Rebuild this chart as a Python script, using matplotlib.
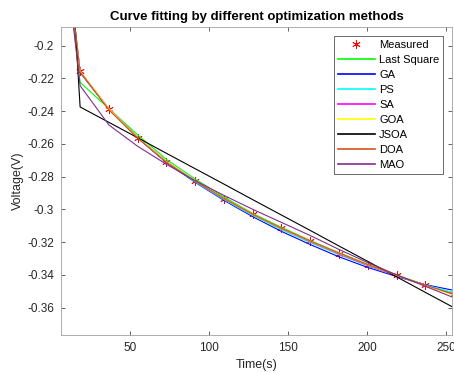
import matplotlib
matplotlib.use('Agg')
import matplotlib.pyplot as plt
from matplotlib.ticker import FuncFormatter

plt.rcParams['font.family'] = ['Liberation Sans', 'DejaVu Sans']

# time samples (s)
time_s = [0, 18.2, 36.4, 54.6, 72.8, 91.0, 109.2, 127.4, 145.6, 163.8,
          182.0, 200.2, 218.4, 236.6, 254.8]

measured = [-0.065, -0.2153, -0.2387, -0.2563, -0.2710, -0.2830, -0.2937,
            -0.3030, -0.3117, -0.3195, -0.3270, -0.3341, -0.3402, -0.3464,
            -0.3520]

last_square = [-0.070, -0.2225, -0.2385, -0.2545, -0.2695, -0.2815, -0.2925,
               -0.3025, -0.3110, -0.3190, -0.3265, -0.3335, -0.3400, -0.3462,
               -0.3515]
ga = [-0.062, -0.2165, -0.2390, -0.2565, -0.2715, -0.2835, -0.2945, -0.3045,
      -0.3135, -0.3215, -0.3290, -0.3355, -0.3410, -0.3460, -0.3495]
ps = [-0.063, -0.2160, -0.2388, -0.2562, -0.2712, -0.2832, -0.2940, -0.3038,
      -0.3125, -0.3203, -0.3277, -0.3345, -0.3405, -0.3462, -0.3508]
sa = [-0.064, -0.2158, -0.2385, -0.2560, -0.2708, -0.2828, -0.2935, -0.3032,
      -0.3118, -0.3197, -0.3272, -0.3342, -0.3405, -0.3465, -0.3520]
goa = [-0.065, -0.2155, -0.2386, -0.2561, -0.2709, -0.2826, -0.2933, -0.3030,
       -0.3116, -0.3194, -0.3268, -0.3338, -0.3403, -0.3465, -0.3525]
jsoa = [0.050, -0.2375, -0.2469, -0.2563, -0.2658, -0.2752, -0.2846, -0.2941,
        -0.3035, -0.3129, -0.3224, -0.3318, -0.3412, -0.3507, -0.3601]
doa = [-0.066, -0.2160, -0.2392, -0.2565, -0.2712, -0.2828, -0.2933, -0.3030,
       -0.3115, -0.3193, -0.3267, -0.3337, -0.3402, -0.3463, -0.3520]
mao = [-0.068, -0.2245, -0.2485, -0.2615, -0.2725, -0.2825, -0.2915, -0.3000,
       -0.3080, -0.3160, -0.3245, -0.3325, -0.3400, -0.3470, -0.3540]

series = [
    ('Last Square', last_square, '#00ff00'),
    ('GA', ga, '#0000ff'),
    ('PS', ps, '#00ffff'),
    ('SA', sa, '#ff00ff'),
    ('GOA', goa, '#ffff00'),
    ('JSOA', jsoa, '#000000'),
    ('DOA', doa, '#d95319'),
    ('MAO', mao, '#7e2f8e'),
]

fig = plt.figure(figsize=(4.54, 3.73), dpi=100)
ax = fig.add_axes([0.134, 0.102, 0.862, 0.826])

ax.plot(time_s, measured, linestyle='none', marker=(6, 2, 0), markersize=6,
        markeredgewidth=0.6, color='#ff0000', label='Measured')
for name, values, color in series:
    ax.plot(time_s, values, color=color, linewidth=0.8, label=name)

ax.set_xlim(6, 253.6)
ax.set_ylim(-0.3767, -0.1886)
ax.set_xticks([50, 100, 150, 200, 250])
ax.set_yticks([-0.36, -0.34, -0.32, -0.3, -0.28, -0.26, -0.24, -0.22, -0.2])
ax.yaxis.set_major_formatter(FuncFormatter(lambda v, p: f'{v:g}'))

ax.tick_params(direction='in', length=3, width=0.5, colors='#262626',
               labelsize=8.5, top=True, right=True, pad=5)
for spine in ax.spines.values():
    spine.set_color('#a0a0a0')
    spine.set_linewidth(0.6)

ax.set_title('Curve fitting by different optimization methods',
             fontsize=9.5, fontweight='bold', pad=5)
ax.set_xlabel('Time(s)', fontsize=9, color='#262626', labelpad=4)
ax.set_ylabel('Voltage(V)', fontsize=9, color='#262626', labelpad=2)

leg = ax.legend(loc='upper right', fontsize=8, frameon=True, fancybox=False,
                borderaxespad=0.8, handlelength=3.3, labelspacing=0.45,
                handletextpad=0.4, borderpad=0.35)
leg.get_frame().set_edgecolor('#262626')
leg.get_frame().set_linewidth(0.6)
for h in leg.get_lines():
    h.set_linewidth(1.2)

fig.savefig('out.png', dpi=100)
